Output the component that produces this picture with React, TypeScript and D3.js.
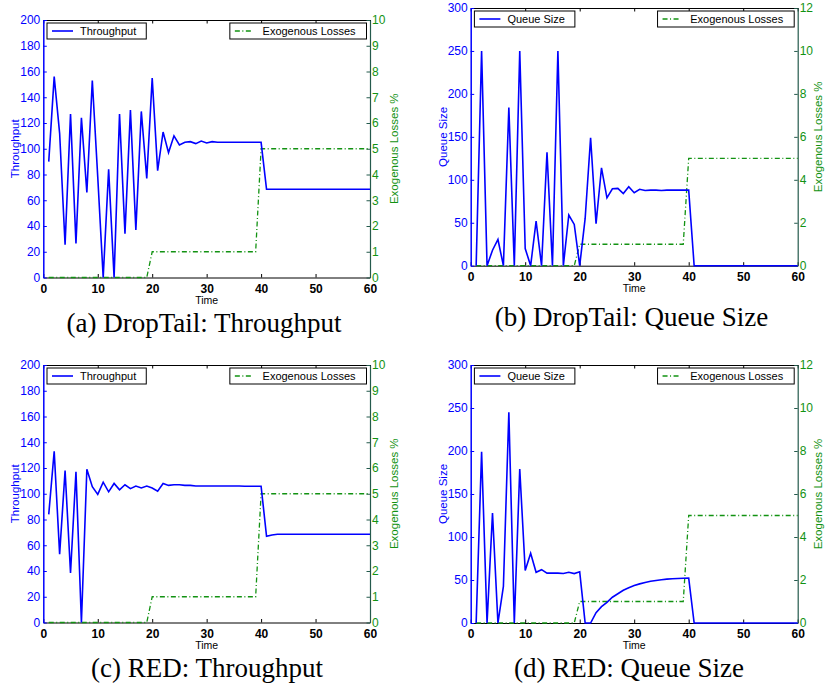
import React, { useEffect, useRef } from 'react';
import * as d3 from 'd3';

// one value per time step, time = index + 1 (1..60)
const dropTailThroughput = [
  90, 156, 112, 25.5, 127, 26.5, 124, 66, 153, 78,
  0, 84, 0, 127, 34, 130, 37, 129, 77, 155,
  83, 113, 97, 110, 103, 105, 105.5, 104, 106, 104.5,
  105.5, 105, 105, 105, 105, 105, 105, 105, 105, 105,
  68.5, 68.5, 68.5, 68.5, 68.5, 68.5, 68.5, 68.5, 68.5, 68.5,
  68.5, 68.5, 68.5, 68.5, 68.5, 68.5, 68.5, 68.5, 68.5, 68.5,
];
const dropTailQueue = [
  0, 250, 0, 18, 30.5, 0, 184, 0, 250, 20,
  0, 52, 0, 132, 0, 250, 0, 59, 48, 0,
  55, 149, 49, 114, 79, 89.5, 90, 84, 92, 85,
  89, 87.5, 88, 88, 87.5, 88, 88, 88, 88, 88,
  0, 0, 0, 0, 0, 0, 0, 0, 0, 0,
  0, 0, 0, 0, 0, 0, 0, 0, 0, 0,
];
const redThroughput = [
  84, 133, 53, 118, 38.5, 117, 0, 119, 105.5, 99.5,
  109, 101.5, 108, 103, 107, 104, 106, 104.5, 106, 104.5,
  102, 108, 106.5, 107, 107, 106.5, 106.5, 106, 106, 106,
  106, 106, 106, 106, 106, 106, 105.8, 105.8, 105.8, 105.8,
  67, 68, 68.5, 68.5, 68.5, 68.5, 68.5, 68.5, 68.5, 68.5,
  68.5, 68.5, 68.5, 68.5, 68.5, 68.5, 68.5, 68.5, 68.5, 68.5,
];
const redQueue = [
  0, 199, 0, 128, 0, 42.5, 245, 0, 179, 61,
  81, 59, 62, 58, 58, 58, 57.5, 59, 57.5, 59.5,
  0, 0, 12, 19, 24, 30, 34, 38, 41, 43.5,
  45.5, 47, 48.5, 49.5, 50.3, 51, 51.5, 51.8, 52, 52.2,
  0, 0, 0, 0, 0, 0, 0, 0, 0, 0,
  0, 0, 0, 0, 0, 0, 0, 0, 0, 0,
];
const exogenousLosses = [
  0, 0, 0, 0, 0, 0, 0, 0, 0, 0,
  0, 0, 0, 0, 0, 0, 0, 0, 0, 1,
  1, 1, 1, 1, 1, 1, 1, 1, 1, 1,
  1, 1, 1, 1, 1, 1, 1, 1, 1, 5,
  5, 5, 5, 5, 5, 5, 5, 5, 5, 5,
  5, 5, 5, 5, 5, 5, 5, 5, 5, 5,
];

const timeTicks = [0, 10, 20, 30, 40, 50, 60];
const throughputTicks = [0, 20, 40, 60, 80, 100, 120, 140, 160, 180, 200];
const queueTicks = [0, 50, 100, 150, 200, 250, 300];
const lossTicksA = [0, 1, 2, 3, 4, 5, 6, 7, 8, 9, 10];
const lossTicksB = [0, 2, 4, 6, 8, 10, 12];

const BLUE = '#0000ff';
const GREEN = '#129212';
const RAXIS = '#245a4c';
const SANS = 'Liberation Sans, Arial, Helvetica, sans-serif';
const SERIF = 'Liberation Serif, Times New Roman, serif';

const panels = [
  { x0: 43.3, x1: 370, y0: 20, y1: 277.5, values: dropTailThroughput, yTicks: throughputTicks, y2Ticks: lossTicksA,
    yLabel: 'Throughput', legend: 'Throughput', caption: '(a) DropTail: Throughput', capX: 204, capY: 332 },
  { x0: 470.7, x1: 797.7, y0: 8, y1: 265.7, values: dropTailQueue, yTicks: queueTicks, y2Ticks: lossTicksB,
    yLabel: 'Queue Size', legend: 'Queue Size', caption: '(b) DropTail: Queue Size', capX: 631.5, capY: 326 },
  { x0: 43.3, x1: 370, y0: 365, y1: 622.5, values: redThroughput, yTicks: throughputTicks, y2Ticks: lossTicksA,
    yLabel: 'Throughput', legend: 'Throughput', caption: '(c) RED: Throughput', capX: 207, capY: 677 },
  { x0: 470.7, x1: 797.7, y0: 365, y1: 623, values: redQueue, yTicks: queueTicks, y2Ticks: lossTicksB,
    yLabel: 'Queue Size', legend: 'Queue Size', caption: '(d) RED: Queue Size', capX: 629, capY: 677 },
];

const drawPanel = (svg, p) => {
  const x = d3.scaleLinear().domain([0, 60]).range([p.x0, p.x1]);
  const y = d3.scaleLinear().domain([0, p.yTicks[p.yTicks.length - 1]]).range([p.y1, p.y0]);
  const y2 = d3.scaleLinear().domain([0, p.y2Ticks[p.y2Ticks.length - 1]]).range([p.y1, p.y0]);

  const top = svg.append('g')
    .attr('transform', `translate(0,${p.y0})`)
    .call(d3.axisTop(x).tickValues(timeTicks).tickSize(-3.5).tickSizeOuter(0).tickFormat(() => ''));
  top.selectAll('path, line').attr('stroke', '#000');

  const bottom = svg.append('g')
    .attr('transform', `translate(0,${p.y1})`)
    .call(d3.axisBottom(x).tickValues(timeTicks).tickSize(-3.5).tickSizeOuter(0).tickPadding(6.5));
  bottom.attr('font-family', SANS).attr('font-size', 12).attr('font-weight', 'bold');
  bottom.selectAll('path, line').attr('stroke', '#000');
  bottom.selectAll('text').attr('fill', '#000');

  const left = svg.append('g')
    .attr('transform', `translate(${p.x0},0)`)
    .call(d3.axisLeft(y).tickValues(p.yTicks).tickSize(-3.5).tickSizeOuter(0).tickPadding(3));
  left.attr('font-family', SANS).attr('font-size', 12);
  left.select('.domain').attr('stroke', BLUE).attr('stroke-width', 1.5);
  left.selectAll('.tick line').attr('stroke', BLUE);
  left.selectAll('.tick text').attr('fill', BLUE);

  const right = svg.append('g')
    .attr('transform', `translate(${p.x1},0)`)
    .call(d3.axisRight(y2).tickValues(p.y2Ticks).tickSize(-3.5).tickSizeOuter(0).tickPadding(2));
  right.attr('font-family', SANS).attr('font-size', 12);
  right.select('.domain').attr('stroke', RAXIS).attr('stroke-width', 1.2);
  right.selectAll('.tick line').attr('stroke', RAXIS);
  right.selectAll('.tick text').attr('fill', GREEN);

  // axis titles
  const cy = (p.y0 + p.y1) / 2;
  svg.append('text')
    .attr('transform', `translate(${p.x0 - 28},${cy}) rotate(-90)`)
    .attr('dy', '0.35em')
    .attr('text-anchor', 'middle')
    .attr('font-family', SANS).attr('font-size', 11.5)
    .attr('fill', BLUE)
    .text(p.yLabel);
  svg.append('text')
    .attr('transform', `translate(${Math.min(p.x1 + 24, 818)},${cy}) rotate(-90)`)
    .attr('dy', '0.35em')
    .attr('text-anchor', 'middle')
    .attr('font-family', SANS).attr('font-size', 11.5)
    .attr('fill', GREEN)
    .text('Exogenous Losses %');
  svg.append('text')
    .attr('x', (p.x0 + p.x1) / 2)
    .attr('y', p.y1 + 26)
    .attr('text-anchor', 'middle')
    .attr('font-family', SANS).attr('font-size', 10.5)
    .text('Time');

  // series
  const lossLine = d3.line()
    .x((d, i) => x(i + 1))
    .y(d => y2(d));
  svg.append('path')
    .datum(exogenousLosses)
    .attr('d', lossLine)
    .attr('fill', 'none')
    .attr('stroke', GREEN)
    .attr('stroke-width', 1.3)
    .attr('stroke-dasharray', '5,2.5,1,2.5');

  const mainLine = d3.line()
    .x((d, i) => x(i + 1))
    .y(d => y(d));
  svg.append('path')
    .datum(p.values)
    .attr('d', mainLine)
    .attr('fill', 'none')
    .attr('stroke', BLUE)
    .attr('stroke-width', 1.6)
    .attr('stroke-linejoin', 'miter');

  // legends
  const lg1 = svg.append('g');
  const bx1 = p.x0 + 3.7;
  const by = p.y0 + 3;
  const t1 = lg1.append('text')
    .attr('x', bx1 + 33).attr('y', by + 8).attr('dy', '0.35em')
    .attr('font-family', SANS).attr('font-size', 11)
    .text(p.legend);
  const w1 = t1.node().getComputedTextLength();
  lg1.insert('rect', ':first-child')
    .attr('x', bx1).attr('y', by).attr('width', 33 + w1 + 10).attr('height', 16)
    .attr('fill', '#fff').attr('stroke', '#000').attr('stroke-width', 1);
  lg1.append('line')
    .attr('x1', bx1 + 5).attr('x2', bx1 + 26).attr('y1', by + 8).attr('y2', by + 8)
    .attr('stroke', BLUE).attr('stroke-width', 1.6);

  const lg2 = svg.append('g');
  const t2 = lg2.append('text')
    .attr('y', by + 8).attr('dy', '0.35em')
    .attr('font-family', SANS).attr('font-size', 11)
    .text('Exogenous Losses');
  const w2 = t2.node().getComputedTextLength();
  const bw2 = 32.7 + w2 + 11;
  const bx2 = p.x1 - 3.5 - bw2;
  t2.attr('x', bx2 + 32.7);
  lg2.insert('rect', ':first-child')
    .attr('x', bx2).attr('y', by).attr('width', bw2).attr('height', 16)
    .attr('fill', '#fff').attr('stroke', '#000').attr('stroke-width', 1);
  lg2.append('line')
    .attr('x1', bx2 + 5).attr('x2', bx2 + 23).attr('y1', by + 8).attr('y2', by + 8)
    .attr('stroke', GREEN).attr('stroke-width', 1.3)
    .attr('stroke-dasharray', '5,2.5,1,2.5');

  // caption
  svg.append('text')
    .attr('x', p.capX).attr('y', p.capY)
    .attr('text-anchor', 'middle')
    .attr('font-family', SERIF).attr('font-size', 27)
    .attr('fill', '#000')
    .text(p.caption);
};

const App = () => {
  const ref = useRef(null);

  useEffect(() => {
    const svg = d3.select(ref.current);
    svg.selectAll('*').remove();
    svg.append('rect').attr('width', 825).attr('height', 685).attr('fill', '#fff');
    panels.forEach(p => drawPanel(svg, p));
  }, []);

  return (
    <svg
      ref={ref}
      width={825}
      height={685}
      style={{ position: 'absolute', left: 0, top: 0, display: 'block' }}
    />
  );
};

export default App;
